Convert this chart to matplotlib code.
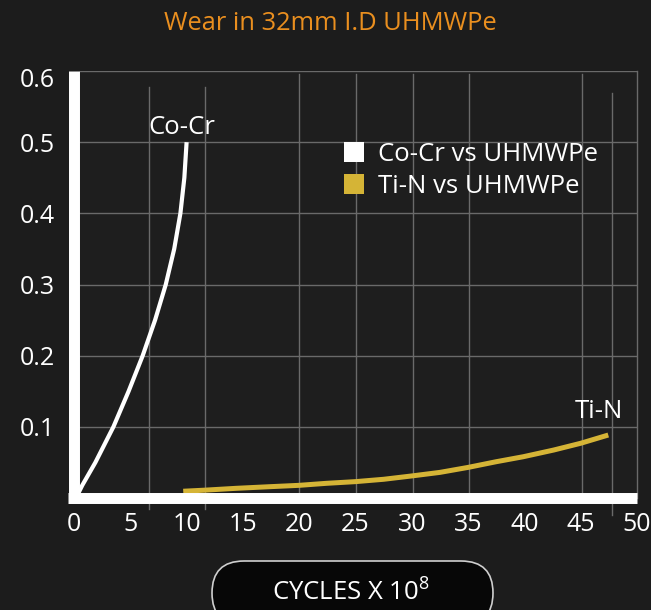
import matplotlib
matplotlib.use('Agg')
import matplotlib.pyplot as plt
from matplotlib.patches import Patch, FancyBboxPatch
from matplotlib.transforms import IdentityTransform, ScaledTranslation

plt.rcParams['font.family'] = ['Open Sans', 'DejaVu Sans']
plt.rcParams['mathtext.fontset'] = 'custom'
plt.rcParams['mathtext.rm'] = 'Open Sans'

# data
cocr_cycles = [0.30, 0.74, 1.9, 3.5, 4.85, 6.1, 7.2, 8.15, 8.9, 9.45, 9.8, 10.0]
cocr_wear   = [0.004, 0.018, 0.05, 0.10, 0.15, 0.20, 0.25, 0.30, 0.35, 0.40, 0.45, 0.50]
tin_cycles  = [9.7, 11.6, 14.4, 17.4, 20.0, 22.4, 25.0, 27.5, 30.0, 32.5, 35.0,
               37.5, 39.9, 42.6, 45.0, 47.45]
tin_wear    = [0.0095, 0.011, 0.0136, 0.0159, 0.0178, 0.0206, 0.0230, 0.0263, 0.031,
               0.036, 0.043, 0.051, 0.058, 0.0674, 0.0769, 0.0885]
x_ticks = [0, 5, 10, 15, 20, 25, 30, 35, 40, 45, 50]
y_ticks = [0.1, 0.2, 0.3, 0.4, 0.5, 0.6]
y_labels = ['0.1', '0.2', '0.3', '0.4', '0.5', '0.6']

# irregular hand-drawn grid of the original
vgrid_x      = [6.66, 11.6, 20.0, 25.0, 30.1, 35.1, 45.1, 47.8, 50.0]
vgrid_top    = [0.577, 0.577, 0.596, 0.596, 0.596, 0.596, 0.596, 0.569, 0.6]
vgrid_bottom = [-0.0155, -0.0155, 0, 0, 0, 0, 0, -0.024, 0]

BG = '#1c1c1c'
GOLD = '#d5b436'
GRID = '#6a6a6a'
FS = 18.5

W, H = 651, 610
fig = plt.figure(figsize=(W / 100, H / 100), dpi=100, facecolor=BG)
ax = fig.add_axes([74 / W, 112 / H, 563 / W, 427 / H])
ax.set_facecolor('#1e1e1e')
ax.set_xlim(0, 50)
ax.set_ylim(0, 0.6)
for s in ax.spines.values():
    s.set_visible(False)

# grid
for yv in y_ticks[:-1]:
    ax.plot([0, 50], [yv, yv], color=GRID, lw=1.0, zorder=1)
ax.plot([0.5, 50], [0.6, 0.6], color=GRID, lw=1.0, zorder=1)
for xv, top, bot in zip(vgrid_x, vgrid_top, vgrid_bottom):
    ax.plot([xv, xv], [bot, top], color=GRID, lw=1.0, zorder=1, clip_on=False)

# curves
ax.plot(cocr_cycles, cocr_wear, color='white', lw=3.0, zorder=3, clip_on=False,
        solid_capstyle='butt', solid_joinstyle='round')
ax.plot(tin_cycles, tin_wear, color=GOLD, lw=3.6, zorder=3, clip_on=False,
        solid_capstyle='butt', solid_joinstyle='round')

# thick white axes
ax.plot([0, 0], [-0.0077, 0.6], color='white', lw=7.9, solid_capstyle='butt',
        zorder=4, clip_on=False)
ax.plot([-0.49, 50], [0, 0], color='white', lw=7.9, solid_capstyle='butt',
        zorder=4, clip_on=False)

ax.set_xticks(x_ticks)
ax.set_yticks(y_ticks)
ax.set_yticklabels(y_labels)
ax.tick_params(axis='both', length=0, colors='white', labelsize=18)
ax.tick_params(axis='x', pad=10)
ax.tick_params(axis='y', pad=14)
# top label sits a little lower in the original
top_lab = ax.get_yticklabels()[-1]
top_lab.set_transform(top_lab.get_transform() + ScaledTranslation(0, -6 / 100, fig.dpi_scale_trans))

ax.text(9.6, 0.521, 'Co-Cr', color='white', fontsize=FS, ha='center', va='center')
ax.text(46.6, 0.122, 'Ti-N', color='white', fontsize=FS, ha='center', va='center')

handles = [Patch(facecolor='white', edgecolor='none', label='Co-Cr vs UHMWPe'),
           Patch(facecolor=GOLD, edgecolor='none', label='Ti-N vs UHMWPe')]
leg = ax.legend(handles=handles, loc='upper left', bbox_to_anchor=(344 / W, 1 - 142 / H),
                bbox_transform=fig.transFigure, frameon=False, fontsize=FS,
                handlelength=0.78, handleheight=0.78, handletextpad=0.55,
                labelspacing=0.27, borderpad=0, borderaxespad=0)
for t in leg.get_texts():
    t.set_color('white')

fig.text(330 / W, 1 - 23 / H, 'Wear in 32mm I.D UHMWPe', color='#ea8f1f',
         fontsize=18.4, ha='center', va='center')

pill = FancyBboxPatch((212, -15), 281, 64, boxstyle='round,pad=0,rounding_size=32',
                      transform=IdentityTransform(), facecolor='#070707',
                      edgecolor='#cfcfcf', lw=1.2)
fig.patches.append(pill)
fig.text(351 / W, 1 - 592 / H, 'CYCLES X 10$^{8}$', color='white', fontsize=FS,
         ha='center', va='center')

fig.savefig('out.png', dpi=100, facecolor=BG)
